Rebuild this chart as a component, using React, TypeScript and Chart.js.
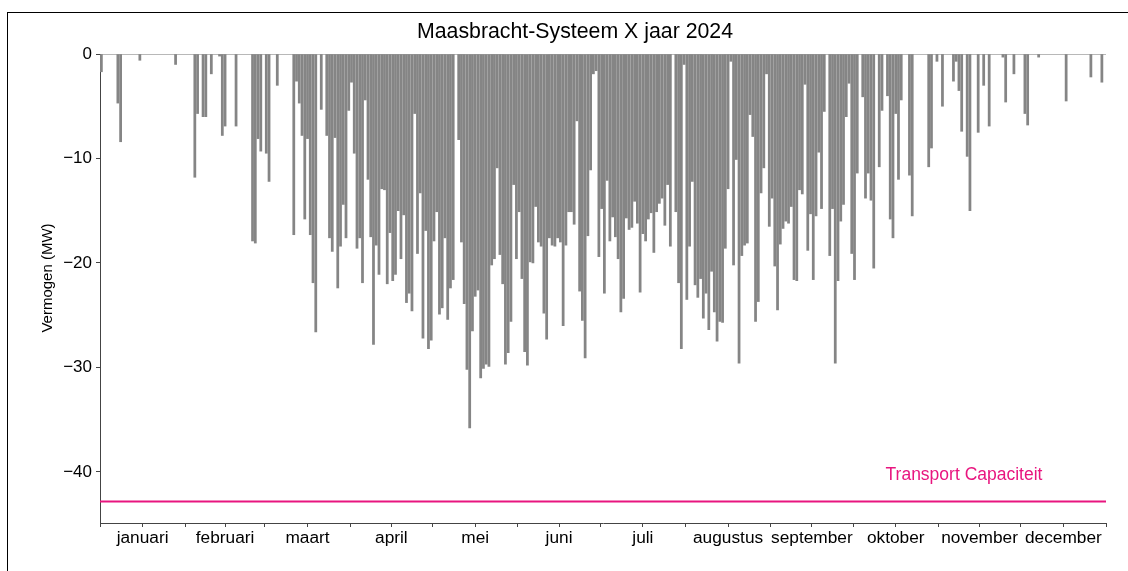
import React, { useEffect, useRef } from "react";
import { Chart, registerables } from "chart.js";

Chart.register(...registerables);

const chartTitle = "Maasbracht-Systeem X jaar 2024";
const yAxisLabel = "Vermogen (MW)";
const capacityLabel = "Transport Capaciteit";
const capacityValue = -42.85;

const monthNames = ["januari", "februari", "maart", "april", "mei", "juni", "juli", "augustus", "september", "oktober", "november", "december"];
const yTickValues = [0, -10, -20, -30, -40];

// deepest power value (MW) per day
const jan = [-1.7, 0, 0, 0, 0, 0, -4.7, -8.4, 0, 0, 0, 0, 0, 0, -0.6, 0, 0, 0, 0, 0, 0, 0, 0, 0, 0, 0, 0, -1.0, 0, 0, 0];
const feb = [0, 0, 0, -11.8, -5.7, 0, -6.0, -6.0, 0, -1.9, 0, 0, -0.2, -7.8, -6.9, 0, 0, 0, -6.9, 0, 0, 0, 0, 0, -17.9, -18.1, -8.1, -9.3, 0];
const mar = [-9.5, -12.2, 0, 0, -3.0, 0, 0, 0, 0, 0, -17.3, -2.6, -4.7, -7.8, -15.8, -8.1, -17.3, -21.9, -26.6, 0, -5.3, 0, -7.8, -17.6, -18.9, -8.0, -22.4, -18.4, -14.4, -17.6, -5.4];
const apr = [-2.7, -9.5, -18.6, -17.6, -21.9, -4.4, -12.0, -17.5, -27.8, -18.3, -21.1, -12.9, -13.0, -22.0, -17.1, -21.7, -21.1, -15.0, -19.6, -15.4, -23.8, -22.9, -24.6, -5.7, -19.1, -13.3, -27.2, -16.9, -28.2, -27.4];
const mei = [-17.9, -15.1, -24.9, -24.3, -17.6, -25.4, -22.4, -21.6, 0, -8.2, -18.0, -23.9, -30.2, -35.8, -26.5, -23.2, -22.6, -31.0, -30.1, -29.7, -29.9, -20.2, -19.6, -10.9, -19.2, -22.0, -29.7, -28.6, -25.6, -12.5, -19.6];
const jun = [-15.1, -21.5, -28.5, -29.8, -19.9, -20.0, -14.6, -18.0, -18.4, -24.8, -27.3, -17.6, -18.3, -18.4, -17.6, -18.0, -26.0, -18.3, -15.1, -15.1, -16.3, -6.4, -22.7, -25.5, -29.1, -17.4, -11.1, -1.9, -1.6, -19.4];
const jul = [-14.8, -22.9, -12.1, -17.9, -15.6, -17.5, -19.6, -24.7, -23.4, -15.7, -16.8, -16.6, -14.1, -16.2, -22.8, -17.2, -17.9, -15.8, -15.2, -19.0, -15.1, -14.3, -13.8, -16.4, -12.5, -18.4, 0, -15.1, -21.9, -28.2, -1.0];
const aug = [-23.5, -18.4, -12.2, -22.1, -23.3, -21.5, -25.3, -22.9, -26.4, -20.8, -24.7, -27.5, -25.6, -25.7, -18.6, -12.9, -0.7, -20.2, -10.1, -29.6, -19.3, -18.3, -18.1, -5.8, -7.9, -25.6, -23.7, -13.3, -10.9, -1.9, -16.5];
const sep = [-13.8, -20.3, -24.5, -18.2, -16.7, -16.0, -16.2, -14.6, -21.6, -21.7, -13.0, -13.4, -2.9, -18.8, -15.3, -21.6, -15.5, -9.4, -14.8, -5.5, 0, -19.3, -14.8, -29.6, -21.7, -16.0, -14.4, -6.0, -2.8, -19.1];
const okt = [-21.6, -11.4, 0, -4.1, -13.8, -11.4, -14.0, -20.5, 0, -10.8, -5.4, 0, -4.0, -15.8, -17.6, -5.7, -12.0, -4.4, 0, 0, -11.6, -15.5, 0, 0, 0, 0, 0, -10.8, -9.0, 0, -0.7];
const nov = [0, -5.0, 0, 0, 0, -2.6, -0.7, -3.5, -7.4, 0, -9.8, -15.0, 0, 0, -7.5, 0, -3.0, 0, -6.9, 0, 0, 0, 0, -0.3, -4.6, 0, 0, -1.9, 0, 0];
const dec = [0, -5.7, -6.8, 0, 0, 0, -0.3, 0, 0, 0, 0, 0, 0, 0, 0, 0, -4.5, 0, 0, 0, 0, 0, 0, 0, 0, -2.2, 0, 0, 0, -2.7, 0];

const FONT = "'Liberation Sans', Arial, sans-serif";

export default function App() {
  const ref = useRef<HTMLCanvasElement>(null);

  useEffect(() => {
    const months = [jan, feb, mar, apr, mei, jun, jul, aug, sep, okt, nov, dec];
    const points: { x: number; y: number }[] = [];
    const boundaries: number[] = [0];
    const mids: number[] = [];
    let start = 0;
    months.forEach((arr) => {
      arr.forEach((v, i) => {
        if (v !== 0) points.push({ x: start + i + 0.5, y: v });
      });
      mids.push(start + arr.length / 2);
      start += arr.length;
      boundaries.push(start);
    });
    const totalDays = start;
    const xTicks = [...boundaries, ...mids].sort((a, b) => a - b);

    const textPlugin = {
      id: "texts",
      afterDraw(chart: any) {
        const ctx = chart.ctx;
        ctx.save();
        ctx.fillStyle = "#000";
        ctx.textAlign = "center";
        ctx.textBaseline = "middle";
        ctx.font = `21.3px ${FONT}`;
        ctx.fillText(chartTitle, 575, 32);
        ctx.save();
        ctx.translate(48, 278);
        ctx.rotate(-Math.PI / 2);
        ctx.font = `15px ${FONT}`;
        ctx.fillText(yAxisLabel, 0, 0);
        ctx.restore();
        ctx.fillStyle = "#e8157f";
        ctx.font = `17.5px ${FONT}`;
        ctx.fillText(capacityLabel, 964, 475);
        ctx.restore();
      },
    };

    const chart = new Chart(ref.current!, {
      type: "bar",
      data: {
        datasets: [
          {
            type: "bar",
            data: points,
            backgroundColor: "#858585",
            borderWidth: 0,
            barThickness: 2.1,
          } as any,
          {
            type: "line",
            data: [
              { x: 0, y: capacityValue },
              { x: totalDays, y: capacityValue },
            ],
            borderColor: "#e8157f",
            borderWidth: 2,
            pointRadius: 0,
          } as any,
        ],
      },
      options: {
        animation: false,
        responsive: false,
        layout: { padding: { top: 54, right: 22, bottom: 0, left: 0 } },
        plugins: {
          legend: { display: false },
          title: { display: false },
          tooltip: { enabled: false },
        },
        scales: {
          x: {
            type: "linear",
            offset: false,
            min: 0,
            max: totalDays,
            afterBuildTicks: (scale: any) => {
              scale.ticks = xTicks.map((v) => ({ value: v }));
            },
            afterFit: (scale: any) => {
              scale.height = 48;
            },
            ticks: {
              autoSkip: false,
              maxRotation: 0,
              minRotation: 0,
              padding: 1,
              color: "#000",
              font: { family: FONT, size: 17.3 },
              callback: (v: any) => {
                const idx = mids.indexOf(Number(v));
                return idx >= 0 ? monthNames[idx] : "";
              },
            },
            grid: { offset: false, drawOnChartArea: false, tickLength: 4, color: "#444" },
            border: { color: "#444", width: 1 },
          },
          y: {
            type: "linear",
            min: -44.9,
            max: 0,
            afterBuildTicks: (scale: any) => {
              scale.ticks = yTickValues.map((v) => ({ value: v }));
            },
            afterFit: (scale: any) => {
              scale.width = 100;
            },
            ticks: {
              padding: 4,
              color: "#000",
              font: { family: FONT, size: 17 },
              callback: (v: any) => (Number(v) === 0 ? "0" : "\u2212" + Math.abs(Number(v))),
            },
            grid: {
              drawOnChartArea: true,
              tickLength: 4,
              tickColor: "#444",
              color: (c: any) => (c.tick && c.tick.value === 0 ? "#b8b8b8" : "rgba(0,0,0,0)"),
            },
            border: { color: "#444", width: 1 },
          },
        },
      },
      plugins: [textPlugin],
    } as any);

    return () => chart.destroy();
  }, []);

  return (
    <>
      <div
        style={{
          position: "absolute",
          left: 7,
          top: 12,
          width: 1121,
          height: 559,
          boxSizing: "border-box",
          borderLeft: "1.5px solid #000",
          borderTop: "1.5px solid #000",
        }}
      />
      <canvas
        ref={ref}
        width={1128}
        height={571}
        style={{ position: "absolute", left: 0, top: 0, display: "block" }}
      />
    </>
  );
}
